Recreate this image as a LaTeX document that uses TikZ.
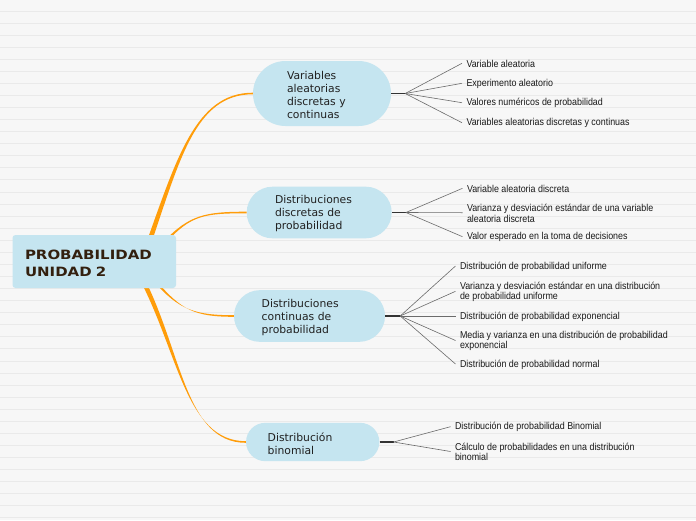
\documentclass[tikz,border=0pt]{standalone}
\usepackage{fontspec}
\usetikzlibrary{calc,shapes.misc,positioning}
\newfontfamily\mapfont{DejaVu Sans}
\newfontfamily\rootfont[FakeStretch=1.17]{DejaVu Sans}
\newfontfamily\leaffont[FakeStretch=0.89]{Liberation Sans}
\definecolor{paper}{HTML}{F7F7F7}
\definecolor{rule}{HTML}{EAEAEA}
\definecolor{bubble}{HTML}{C5E5F0}
\definecolor{rootink}{HTML}{33200F}
\definecolor{branchorange}{HTML}{FF9D0A}
\definecolor{stubgray}{HTML}{333333}
\definecolor{fangray}{HTML}{6B6B6B}

% tapered branch: start, control 1, control 2, end, half width at start
\newcommand{\branch}[5]{%
  \fill[branchorange] ($(#1)+(-#5,0)$) .. controls ($(#2)+(-#5*0.7,0)$) and ($(#3)+(0,-0.8)$) .. ($(#4)+(0,-0.8)$)
    -- ($(#4)+(0,0.8)$) .. controls ($(#3)+(0,0.8)$) and ($(#2)+(#5*0.7,0)$) .. ($(#1)+(#5,0)$) -- cycle;}

\begin{document}
\begin{tikzpicture}[x=1pt,y=-1pt,
    rootbox/.style={rectangle,rounded corners=3pt,fill=bubble,inner sep=0pt,
                    minimum width=163.5pt,minimum height=53pt,align=left,text=rootink,
                    text height=13.3pt,
                    font=\rootfont\bfseries\fontsize{12.8}{16.5}\selectfont},
    topic/.style={rounded rectangle,fill=bubble,inner sep=0pt,align=left,text=black!87,
                  text height=11.2pt,
                  font=\mapfont\fontsize{10.8}{13}\selectfont},
    leaf/.style={anchor=west,inner xsep=4.3pt,inner ysep=0pt,align=left,text=black!90,
                 yshift=-0.6pt,font=\leaffont\fontsize{10}{9.3}\selectfont},
    stub/.style={stubgray,line width=1.5pt},
    fan/.style={fangray,line width=0.6pt}]

    \useasboundingbox (0,0) rectangle (696,520);
    \fill[paper] (0,0) rectangle (696,520);
    \foreach \k in {0,...,42}
        \draw[rule,line width=1pt] (0,11+12.07*\k) -- (696,11+12.07*\k);

    % topics
    \node[topic,minimum width=138pt,minimum height=65pt,text width=70pt] (n1) at (322,93.5)
        {Variables\\aleatorias\\discretas y\\continuas};
    \node[topic,minimum width=145pt,minimum height=51.6pt,text width=88.4pt] (n2) at (319.2,212.5)
        {Distribuciones\\discretas de\\probabilidad};
    \node[topic,minimum width=151pt,minimum height=51.7pt,text width=95.6pt] (n3) at (309.5,316)
        {Distribuciones\\continuas de\\probabilidad};
    \node[topic,minimum width=133.3pt,minimum height=38.3pt,text width=90pt] (n4) at (312.7,442)
        {Distribución\\binomial};

    % branches from the central topic
    \coordinate (r1) at (147,248);
    \coordinate (r2) at (165,242);
    \coordinate (r3) at (155,281);
    \coordinate (r4) at (140,275);
    \branch{r1}{178,160}{195,93.5}{n1.west}{2.6}
    \branch{r2}{190,215}{205,212.5}{n2.west}{1.6}
    \branch{r3}{180,310}{195,316}{n3.west}{1.6}
    \branch{r4}{180,350}{185,442}{n4.west}{2.6}

    \node[rootbox,text width=138.5pt] (root) at (94.25,261.5) {PROBABILIDAD\\UNIDAD 2};

    % fan points
    \coordinate (f1) at ($(n1.east)+(14,0)$);
    \coordinate (f2) at ($(n2.east)+(14,0)$);
    \coordinate (f3) at ($(n3.east)+(15,0)$);
    \coordinate (f4) at ($(n4.east)+(14,0)$);

    % subtopics
    \node[leaf] (l11) at (462,63.3) {Variable aleatoria};
    \node[leaf] (l12) at (462,83.3) {Experimento aleatorio};
    \node[leaf] (l13) at (462,102.7) {Valores numéricos de probabilidad};
    \node[leaf] (l14) at (462,122.7) {Variables aleatorias discretas y continuas};

    \node[leaf] (l21) at (462.5,188.3) {Variable aleatoria discreta};
    \node[leaf] (l22) at (462.5,212.7) {Varianza y desviación estándar de una variable\\aleatoria discreta};
    \node[leaf] (l23) at (462.5,236.7) {Valor esperado en la toma de decisiones};

    \node[leaf] (l31) at (455.5,266) {Distribución de probabilidad uniforme};
    \node[leaf] (l32) at (455.5,291.3) {Varianza y desviación estándar en una distribución\\de probabilidad uniforme};
    \node[leaf] (l33) at (455.5,316) {Distribución de probabilidad exponencial};
    \node[leaf] (l34) at (455.5,340.5) {Media y varianza en una distribución de probabilidad\\exponencial};
    \node[leaf] (l35) at (455.5,364) {Distribución de probabilidad normal};

    \node[leaf] (l41) at (450.5,426.7) {Distribución de probabilidad Binomial};
    \node[leaf] (l42) at (450.5,451.5) {Cálculo de probabilidades en una distribución\\binomial};

    \draw[stub] (n1.east) -- (f1);
    \draw[stub] (n2.east) -- (f2);
    \draw[stub] (n3.east) -- (f3);
    \draw[stub] (n4.east) -- (f4);

    \foreach \j in {1,...,4}
        \draw[fan] (f1) -- ([yshift=0.6pt]l1\j.west);
    \foreach \j in {1,...,3}
        \draw[fan] (f2) -- ([yshift=0.6pt]l2\j.west);
    \foreach \j in {1,...,5}
        \draw[fan] (f3) -- ([yshift=0.6pt]l3\j.west);
    \foreach \j in {1,2}
        \draw[fan] (f4) -- ([yshift=0.6pt]l4\j.west);
\end{tikzpicture}
\end{document}
